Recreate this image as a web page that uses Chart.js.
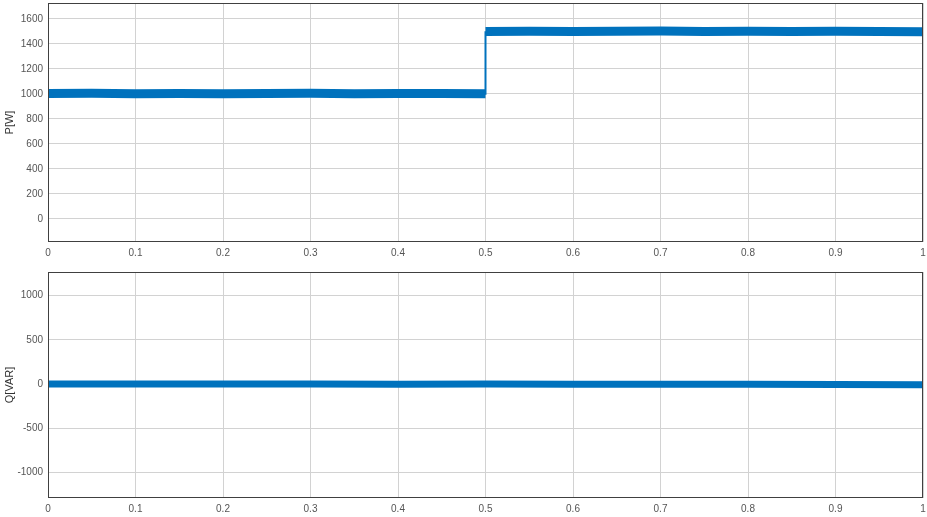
<!DOCTYPE html>
<html>
<head>
<meta charset="utf-8">
<script src="https://cdn.jsdelivr.net/npm/chart.js@4/dist/chart.umd.min.js"></script>
<style>
  html, body { margin: 0; padding: 0; background: #fff; }
  #top { position: absolute; left: 0; top: 0; width: 927px; height: 256px; }
  #bottom { position: absolute; left: 0; top: 256px; width: 927px; height: 261px; }
</style>
</head>
<body>
<div id="top"><canvas id="pChart"></canvas></div>
<div id="bottom"><canvas id="qChart"></canvas></div>
<script>
// step edges of active power
const edgeTime = [0, 0, 0.5, 0.5];
const edgeP = [0, 1000, 1000, 1500];

// active power band, first half (1000 W) and second half (1500 W)
const lowTime = [0, 0.05, 0.1, 0.15, 0.2, 0.25, 0.3, 0.35, 0.4, 0.45, 0.5];
const lowP = [1002, 1004, 1001, 1003, 1000, 1002, 1004, 1001, 1003, 1002, 1001];
const highTime = [0.5, 0.55, 0.6, 0.65, 0.7, 0.75, 0.8, 0.85, 0.9, 0.95, 1];
const highP = [1499, 1501, 1498, 1500, 1502, 1499, 1500, 1498, 1500, 1499, 1497];

// reactive power
const qTime = [0, 0.1, 0.2, 0.3, 0.4, 0.5, 0.6, 0.7, 0.8, 0.9, 1];
const qVals = [2, 1, 3, 1, 0, 2, 0, -1, -2, -4, -6];

const xTicks = [0, 0.1, 0.2, 0.3, 0.4, 0.5, 0.6, 0.7, 0.8, 0.9, 1];

const blue = "#0072BD";
const gridColor = "#d2d2d2";
const tickFont = { family: "Liberation Sans", size: 10 };

function pts(xs, ys) {
  return xs.map((x, i) => ({ x: x, y: ys[i] }));
}

const boxPlugin = {
  id: "box",
  afterDraw(chart) {
    const a = chart.chartArea;
    const ctx = chart.ctx;
    ctx.save();
    ctx.strokeStyle = "#404040";
    ctx.lineWidth = 1;
    ctx.strokeRect(Math.round(a.left) + 0.5, Math.round(a.top) + 0.5,
      Math.round(a.right - a.left) - 1, Math.round(a.bottom - a.top) - 1);
    ctx.restore();
  },
};

function makeOptions(yMin, yMax, yStep, yTickMin, yTickMax, title, padTop, xHeight) {
  return {
    responsive: true,
    maintainAspectRatio: false,
    animation: false,
    layout: { padding: { top: padTop, right: 4, left: 0, bottom: 0 } },
    plugins: { legend: { display: false }, tooltip: { enabled: false } },
    scales: {
      x: {
        type: "linear",
        min: 0,
        max: 1,
        afterBuildTicks: (s) => { s.ticks = xTicks.map((v) => ({ value: v })); },
        afterFit: (s) => {
          s.height = xHeight;
          s.paddingLeft = 0;
          s.paddingRight = 0;
        },
        grid: { color: gridColor, drawTicks: false },
        border: { display: false },
        ticks: {
          padding: 5,
          color: "#555",
          font: tickFont,
          maxRotation: 0,
          callback: (v) => String(Math.round(v * 10) / 10),
        },
      },
      y: {
        min: yMin,
        max: yMax,
        afterBuildTicks: (s) => {
          const t = [];
          for (let v = yTickMin; v <= yTickMax; v += yStep) t.push({ value: v });
          s.ticks = t;
        },
        afterFit: (s) => {
          s.width = 48;
          s.paddingTop = 0;
          s.paddingBottom = 0;
        },
        grid: { color: gridColor, drawTicks: false },
        border: { display: false },
        ticks: {
          padding: 5,
          color: "#555",
          font: tickFont,
          callback: (v) => String(v),
        },
        title: {
          display: true,
          text: title,
          color: "#333",
          font: { family: "Liberation Sans", size: 11 },
          padding: { top: 3, bottom: 2 },
        },
      },
    },
  };
}

new Chart(document.getElementById("pChart"), {
  type: "line",
  data: {
    datasets: [
      {
        data: pts(edgeTime, edgeP),
        borderColor: blue,
        borderWidth: 2,
        pointRadius: 0,
      },
      {
        data: pts(lowTime, lowP),
        borderColor: blue,
        borderWidth: 9,
        borderCapStyle: "butt",
        pointRadius: 0,
      },
      {
        data: pts(highTime, highP),
        borderColor: blue,
        borderWidth: 9,
        borderCapStyle: "butt",
        pointRadius: 0,
      },
    ],
  },
  options: makeOptions(-184, 1726, 200, 0, 1600, "P[W]", 3, 14),
  plugins: [boxPlugin],
});

new Chart(document.getElementById("qChart"), {
  type: "line",
  data: {
    datasets: [
      {
        data: pts(qTime, qVals),
        borderColor: blue,
        borderWidth: 7,
        borderCapStyle: "butt",
        pointRadius: 0,
      },
    ],
  },
  options: makeOptions(-1287, 1268, 500, -1000, 1000, "Q[VAR]", 16, 19),
  plugins: [boxPlugin],
});
</script>
</body>
</html>
